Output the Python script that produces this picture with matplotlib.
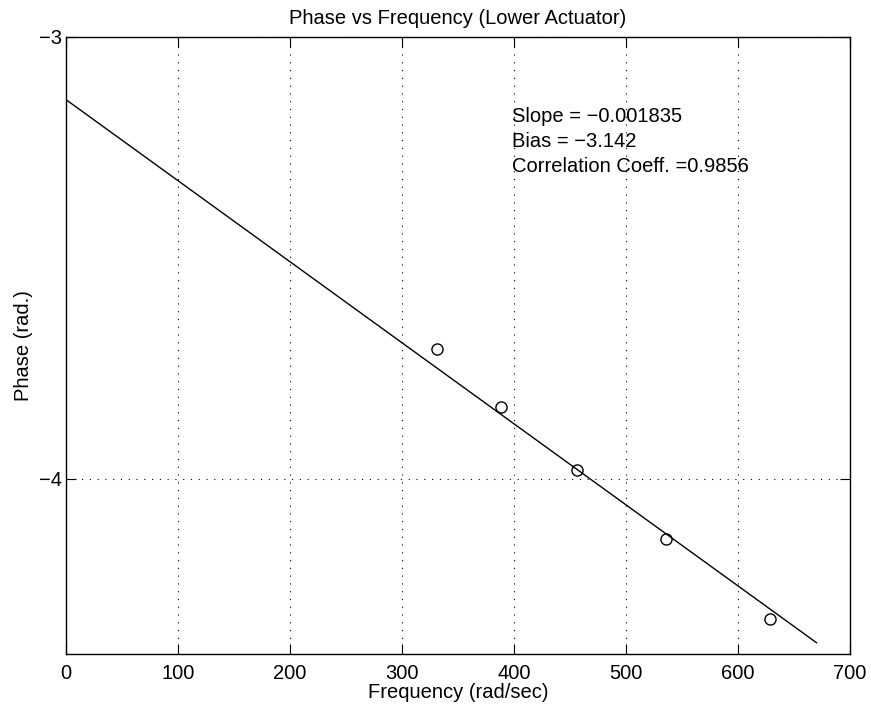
import numpy as np
import matplotlib
matplotlib.use("Agg")
import matplotlib.pyplot as plt

plt.rcParams['font.family'] = ['Liberation Sans', 'DejaVu Sans']

# measured phase points (lower actuator)
freq = [331.5, 388.4, 456.0, 535.4, 628.8]
phase = [-3.706, -3.837, -3.980, -4.137, -4.318]

# linear fit results
slope = -0.001835
bias = -3.142
corr = 0.9856
fit_range = [0, 670]

fs = 14.5

fig = plt.figure(figsize=(8.71, 7.09), dpi=100)
ax = fig.add_axes([0.0755, 0.0776, 0.9005, 0.8706])

xf = np.array(fit_range)
ax.plot(xf, bias + slope * xf, color='black', linewidth=1.0)
ax.plot(freq, phase, 'o', markerfacecolor='none', markeredgecolor='black',
        markersize=8, markeredgewidth=1.0)

ax.set_xlim(0, 700)
ax.set_ylim(-4.397, -3)
ax.set_xticks(range(0, 701, 100))
ax.set_yticks([-4, -3])
ax.set_yticklabels(['\u22124', '\u22123'])

ax.grid(True, linestyle=(0, (1, 6)), color='black', linewidth=0.8)
ax.tick_params(direction='in', length=7, top=True, right=True,
               labelsize=fs, width=0.8)
ax.tick_params(axis='x', pad=7)
ax.tick_params(axis='y', pad=3)
for s in ax.spines.values():
    s.set_linewidth(1.0)

ax.set_title('Phase vs Frequency (Lower Actuator)', fontsize=fs, pad=9)
ax.set_xlabel('Frequency (rad/sec)', fontsize=fs, labelpad=0)
ax.set_ylabel('Phase (rad.)', fontsize=fs, labelpad=4)

ax.text(398, -3.181, 'Slope = \u22120.001835', fontsize=fs, va='center')
ax.text(398, -3.236, 'Bias = \u22123.142', fontsize=fs, va='center')
ax.text(398, -3.293, 'Correlation Coeff. =0.9856', fontsize=fs, va='center')

fig.savefig('out.png', dpi=100)
